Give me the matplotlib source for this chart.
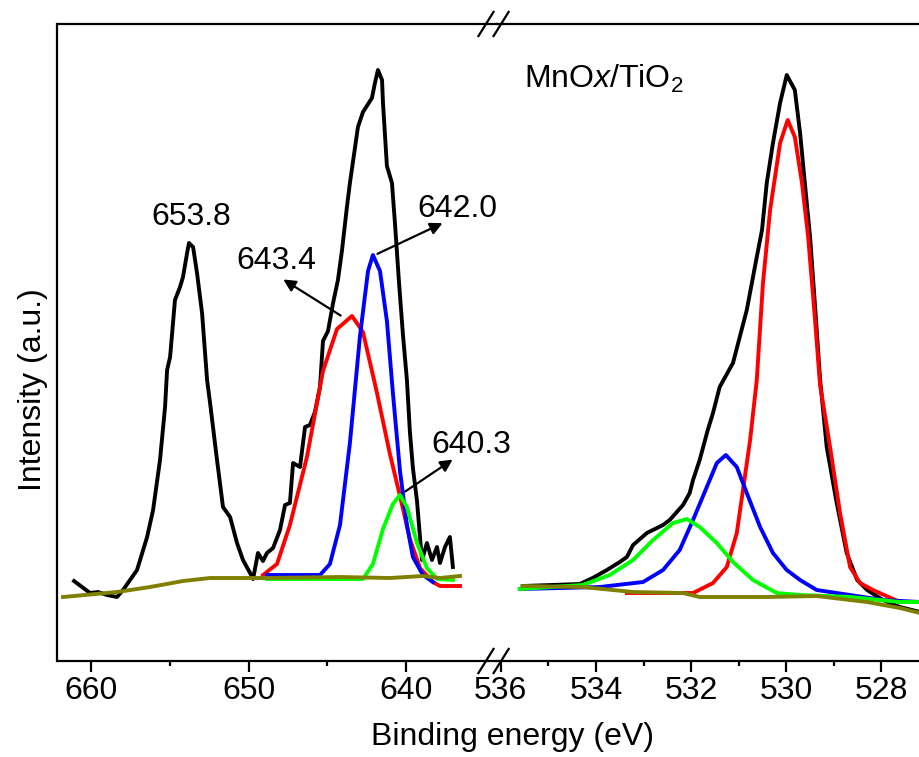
import matplotlib
matplotlib.use("Agg")
import matplotlib.pyplot as plt

plt.rcParams['font.family'] = ['Liberation Sans', 'DejaVu Sans']
plt.rcParams['mathtext.fontset'] = 'custom'
plt.rcParams['mathtext.rm'] = 'Liberation Sans'
plt.rcParams['mathtext.it'] = 'Liberation Sans:italic'

# Mn 2p region (binding energy in eV, intensity in a.u.)
mn_be = [661.08, 660.06, 659.56, 658.98, 658.35, 657.97, 657.08, 656.44, 656.06, 655.62,
         655.30, 655.17, 654.98, 654.67, 654.35, 654.16, 653.90, 653.78, 653.52, 653.27,
         652.95, 652.63, 652.44, 652.00, 651.62, 651.17, 650.73, 650.35, 649.90, 649.71,
         649.40, 649.08, 648.83, 648.44, 648.00, 647.68, 647.37, 647.17, 646.73, 646.41,
         646.10, 645.78, 645.46, 645.27, 644.95, 644.63, 644.32, 644.06, 643.75, 643.56,
         643.05, 642.73, 642.16, 641.97, 641.78, 641.52, 641.46, 641.21, 640.89, 640.70,
         640.44, 640.19, 639.94, 639.75, 639.56, 639.30, 639.11, 638.98, 638.67, 638.35,
         638.03, 637.84, 637.52, 637.21, 637.02]
mn_raw = [80, 68, 69, 66, 64, 71, 91, 124, 151, 201,
          254, 291, 304, 361, 374, 384, 408, 418, 414, 388,
          348, 281, 258, 201, 154, 144, 118, 101, 88, 82,
          108, 100, 108, 113, 131, 156, 158, 198, 194, 234,
          236, 249, 274, 320, 330, 358, 381, 411, 454, 478,
          534, 549, 563, 578, 591, 581, 558, 495, 478, 438,
          378, 326, 281, 229, 193, 160, 124, 101, 118, 101,
          114, 98, 114, 124, 94]

mn_r_be = [649.08, 648.19, 647.37, 646.29, 645.27, 644.38, 643.43, 642.73, 641.84, 641.02,
           640.38, 639.75, 639.11, 638.29, 637.84, 636.57]
mn_r = [86, 97, 136, 204, 290, 332, 345, 329, 268, 207, 165, 122, 93, 79, 75, 75]

mn_b_be = [648.83, 645.46, 644.83, 644.19, 643.56, 642.92, 642.41, 642.10, 641.65, 641.21,
           640.83, 640.38, 639.94, 639.56, 638.92, 638.29]
mn_b = [86, 86, 97, 136, 218, 325, 390, 406, 390, 340, 268, 190, 136, 104, 86, 79]

mn_g_be = [648.83, 642.73, 642.10, 641.46, 640.83, 640.38, 639.94, 639.30, 638.67, 638.03, 637.02]
mn_g = [82, 82, 97, 132, 157, 166, 154, 118, 93, 82, 81]

mn_bg_be = [661.78, 658.35, 656.25, 654.16, 652.44, 650.73, 648.83, 644.19, 641.02, 638.92,
            637.84, 636.57]
mn_bg = [64, 69, 74, 80, 83, 83, 83, 84, 83, 85, 83, 85]

# O 1s region
o_be = [535.54, 534.34, 534.07, 533.77, 533.50, 533.35, 533.22, 532.93, 532.59, 532.45,
        532.17, 532.03, 531.96, 531.82, 531.65, 531.54, 531.40, 531.12, 530.83, 530.62,
        530.51, 530.41, 530.28, 530.13, 529.99, 529.82, 529.71, 529.61, 529.50, 529.40,
        529.29, 529.15, 528.94, 528.73, 528.51, 528.30, 527.97, 527.61, 527.19]
o_raw = [75, 77, 83, 91, 99, 104, 116, 128, 136, 141,
         156, 168, 181, 201, 231, 248, 274, 298, 351, 404,
         431, 478, 518, 558, 586, 571, 528, 478, 424, 358,
         282, 214, 158, 108, 81, 71, 61, 54, 49]

o_r_be = [533.35, 531.96, 531.54, 531.25, 531.04, 530.91, 530.76, 530.62, 530.49, 530.34,
          530.13, 529.97, 529.82, 529.67, 529.54, 529.40, 529.29, 529.08, 528.87, 528.66,
          528.45, 528.18, 527.61, 527.19]
o_r = [68, 68, 78, 94, 128, 171, 221, 281, 378, 451,
       518, 541, 524, 478, 424, 344, 276, 214, 148, 94,
       78, 71, 59, 59]

o_b_be = [535.60, 533.92, 533.01, 532.59, 532.24, 531.96, 531.67, 531.46, 531.27, 531.04,
          530.83, 530.55, 530.28, 529.99, 529.71, 529.36, 528.66, 527.97, 527.19]
o_b = [72, 74, 79, 91, 111, 141, 174, 198, 206, 194,
       168, 134, 108, 91, 81, 71, 66, 61, 59]

o_g_be = [535.60, 534.28, 533.71, 533.22, 532.80, 532.38, 532.09, 531.82, 531.46, 531.12,
          530.70, 530.20, 529.71, 528.66, 527.61, 527.19]
o_g = [72, 76, 86, 101, 121, 138, 142, 134, 118, 99, 81, 68, 66, 64, 59, 59]

o_bg_be = [535.54, 534.28, 533.22, 532.17, 531.82, 530.41, 529.36, 528.30, 527.61, 527.19]
o_bg = [75, 74, 69, 68, 64, 64, 65, 59, 53, 48]

mn_ticks = [660, 650, 640]
mn_minor = [655, 645]
o_ticks = [536, 534, 532, 530, 528]
o_minor = [535, 533, 531, 529, 527]

LW = 2.8
OLIVE = '#808000'
FS = 23

fig = plt.figure(figsize=(9.2, 7.57), dpi=100)
ax1 = fig.add_axes([0.0625, 0.1268, 0.4777, 0.8415])
ax2 = fig.add_axes([0.5402, 0.1268, 0.4696, 0.8415], sharey=ax1)
ax2.set_facecolor('none')

ax1.plot(mn_be, mn_raw, color='black', lw=LW)
ax1.plot(mn_r_be, mn_r, color='#ff0000', lw=LW)
ax1.plot(mn_b_be, mn_b, color='#0000ff', lw=LW)
ax1.plot(mn_g_be, mn_g, color='#00ff00', lw=LW)
ax1.plot(mn_bg_be, mn_bg, color=OLIVE, lw=LW)

ax2.plot(o_be, o_raw, color='black', lw=LW)
ax2.plot(o_r_be, o_r, color='#ff0000', lw=LW)
ax2.plot(o_b_be, o_b, color='#0000ff', lw=LW)
ax2.plot(o_g_be, o_g, color='#00ff00', lw=LW)
ax2.plot(o_bg_be, o_bg, color=OLIVE, lw=LW)

ax1.set_xlim(662.13, 634.22)
ax2.set_xlim(536.08, 527.0)
ax1.set_ylim(0, 637)

ax1.set_xticks(mn_ticks)
ax1.set_xticks(mn_minor, minor=True)
ax2.set_xticks(o_ticks)
ax2.set_xticks(o_minor, minor=True)
ax1.set_yticks([])
ax2.tick_params(axis='y', left=False, labelleft=False)

for ax in (ax1, ax2):
    for s in ax.spines.values():
        s.set_linewidth(1.6)
    ax.tick_params(axis='x', which='major', direction='out', length=8, width=1.6,
                   labelsize=FS, pad=3)
    ax.tick_params(axis='x', which='minor', direction='out', length=3.5, width=1.6)
ax1.spines['right'].set_visible(False)
ax2.spines['left'].set_visible(False)

# break marks
for x0 in (-0.043, -0.008):
    for y0 in (0.0, 1.0):
        ax2.plot([x0, x0 + 0.035], [y0 - 0.019, y0 + 0.019], transform=ax2.transAxes,
                 color='black', lw=1.6, clip_on=False)

fig.text(0.036, 0.485, 'Intensity (a.u.)', fontsize=FS, rotation=90,
         ha='center', va='center')
fig.text(0.557, 0.016, 'Binding energy (eV)', fontsize=FS, ha='center', va='baseline')

arrow = dict(arrowstyle='-|>', color='black', lw=1.6, mutation_scale=18)
ax1.text(653.65, 444, '653.8', fontsize=FS, ha='center', va='center')
ax1.text(648.25, 400, '643.4', fontsize=FS, ha='center', va='center')
ax1.annotate('', xy=(647.94, 383), xytext=(644.0, 344), arrowprops=arrow)
ax1.text(636.76, 452, '642.0', fontsize=FS, ha='center', va='center')
ax1.annotate('', xy=(637.52, 439), xytext=(641.97, 406), arrowprops=arrow)
ax1.text(635.87, 216, '640.3', fontsize=FS, ha='center', va='center')
ax1.annotate('', xy=(636.89, 203), xytext=(640.19, 168), arrowprops=arrow)

ax2.text(535.52, 573, r'MnO$\mathit{x}$/TiO$_2$', fontsize=FS, ha='left', va='baseline')

fig.savefig('out.png', dpi=100)
